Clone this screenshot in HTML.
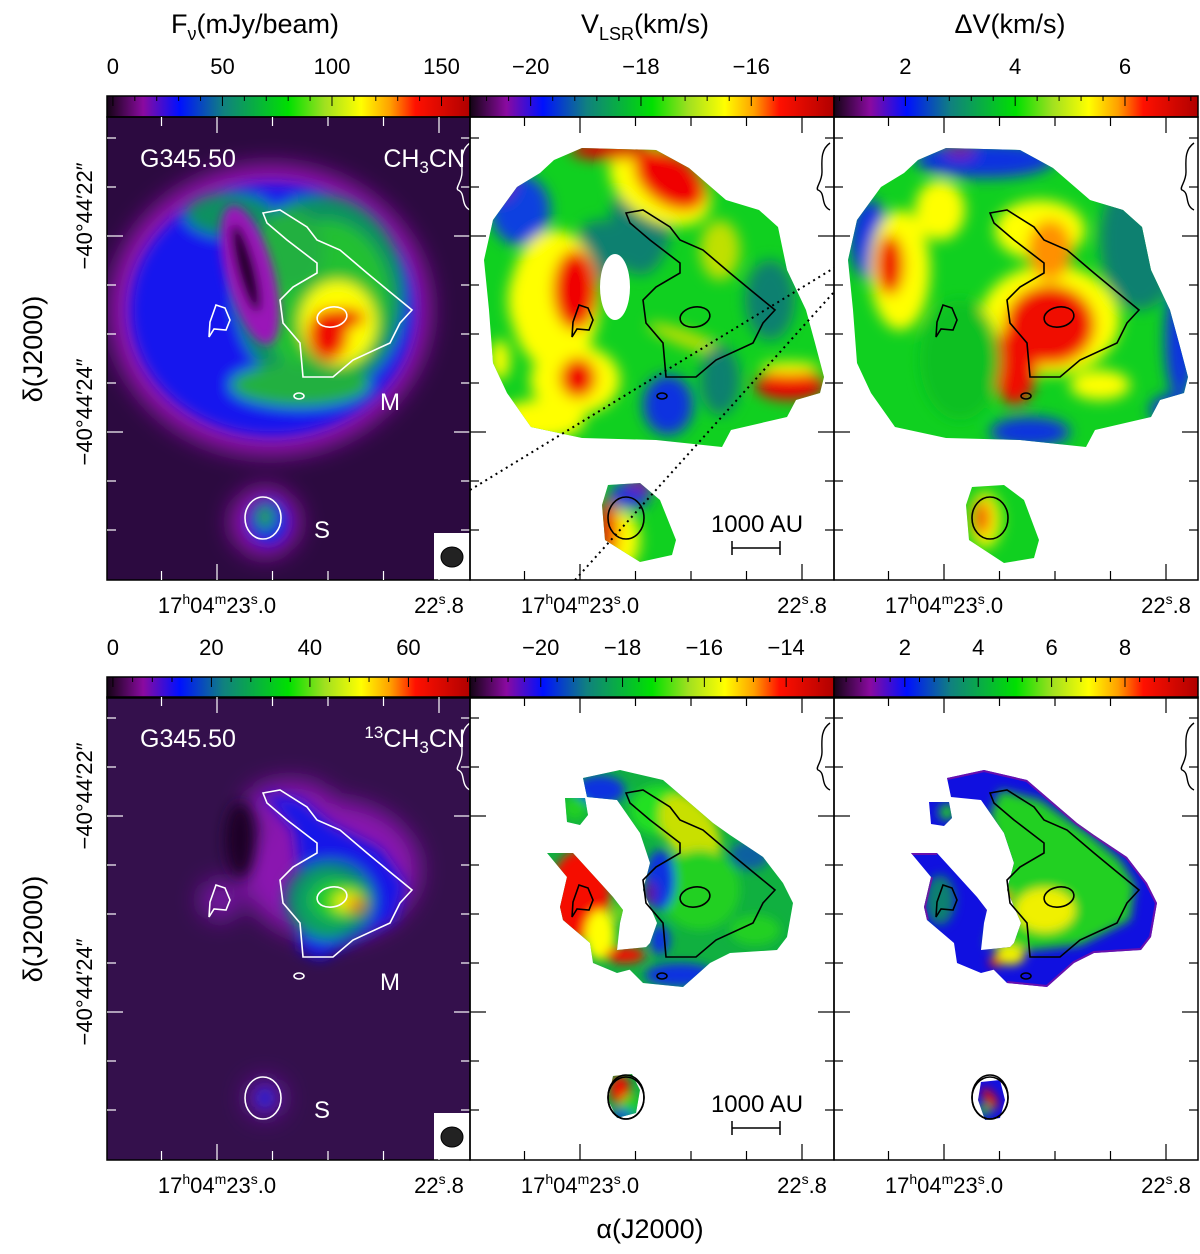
<!DOCTYPE html>
<html><head><meta charset="utf-8">
<style>
html,body{margin:0;padding:0;background:#fff;}
svg{display:block;font-family:"Liberation Sans",sans-serif;}
</style></head>
<body>
<svg id="fig" width="1200" height="1254" viewBox="0 0 1200 1254" xmlns="http://www.w3.org/2000/svg">
<defs>
  <linearGradient id="cmap" x1="0" x2="1" y1="0" y2="0">
    <stop offset="0" stop-color="#140414"/>
    <stop offset="0.1" stop-color="#8a0aa0"/>
    <stop offset="0.2" stop-color="#0010ff"/>
    <stop offset="0.32" stop-color="#108080"/>
    <stop offset="0.5" stop-color="#00e000"/>
    <stop offset="0.6" stop-color="#a0e020"/>
    <stop offset="0.7" stop-color="#ffff00"/>
    <stop offset="0.78" stop-color="#ffa000"/>
    <stop offset="0.85" stop-color="#ff1000"/>
    <stop offset="1" stop-color="#b00000"/>
  </linearGradient>
  <filter id="b14" x="-50%" y="-50%" width="200%" height="200%"><feGaussianBlur stdDeviation="12"/></filter>
  <filter id="b8" x="-50%" y="-50%" width="200%" height="200%"><feGaussianBlur stdDeviation="7"/></filter>
  <filter id="b5" x="-50%" y="-50%" width="200%" height="200%"><feGaussianBlur stdDeviation="5"/></filter>
  <filter id="b3" x="-50%" y="-50%" width="200%" height="200%"><feGaussianBlur stdDeviation="3"/></filter>
  <clipPath id="cp1"><rect x="107" y="117" width="363" height="463"/></clipPath>
  <clipPath id="cp4"><rect x="107" y="697" width="363" height="463"/></clipPath>
  <clipPath id="shapeTop"><path d="M554,160 L582,148 L656,150 L689,168 L726,200 L759,210 L778,227 L787,270 L806,310 L815,343 L824,377 L820,393 L796,400 L787,417 L731,430 L722,447 L656,440 L582,438 L531,427 L507,393 L493,363 L489,310 L484,260 L493,220 L517,187 L540,173 Z M608,485 L640,483 L660,500 L676,540 L672,555 L640,562 L605,540 L602,505 Z"/></clipPath>
  <clipPath id="shapeTop3"><path transform="translate(364,0)" d="M554,160 L582,148 L656,150 L689,168 L726,200 L759,210 L778,227 L787,270 L806,310 L815,343 L824,377 L820,393 L796,400 L787,417 L731,430 L722,447 L656,440 L582,438 L531,427 L507,393 L493,363 L489,310 L484,260 L493,220 L517,187 L540,173 Z M608,487 L640,485 L660,500 L675,540 L670,558 L640,563 L605,540 L602,505 Z"/></clipPath>
  <clipPath id="shapeBot"><path d="M583,778 L620,770 L663,780 L713,823 L730,835 L763,857 L783,883 L793,903 L787,937 L777,950 L730,953 L710,963 L683,987 L643,983 L627,967 L650,943 L657,923 L643,890 L650,863 L640,833 L617,800 L587,797 Z M547,853 L573,853 L613,897 L623,910 L620,923 L617,950 L647,947 L640,967 L617,973 L593,963 L590,943 L563,920 L560,907 L567,877 Z M565,798 L585,798 L588,815 L580,825 L567,822 Z M613,1076 L632,1074 L640,1090 L636,1113 L617,1118 L608,1100 Z"/></clipPath>
  <clipPath id="shapeBot3"><path transform="translate(364,0)" d="M583,778 L620,770 L663,780 L713,823 L730,835 L763,857 L783,883 L793,903 L787,937 L777,950 L730,953 L710,963 L683,987 L643,983 L627,967 L650,943 L657,923 L643,890 L650,863 L640,833 L617,800 L587,797 Z M547,853 L573,853 L613,897 L623,910 L620,923 L617,950 L647,947 L640,967 L617,973 L593,963 L590,943 L563,920 L560,907 L567,877 Z M565,802 L585,802 L588,818 L580,826 L567,824 Z M617,1082 L636,1080 L641,1100 L636,1118 L621,1120 L614,1100 Z" /></clipPath>
  <g id="contour">
    <path d="M263,213 L280,210 L307,227 L317,240 L340,250 L367,273 L390,292 L412,310 L400,323 L390,343 L353,360 L333,377 L303,377 L300,343 L283,323 L280,300 L293,287 L317,273 L317,263 L287,240 L267,223 Z" fill="none" stroke-width="1.6"/>
    <ellipse cx="332" cy="317" rx="15" ry="10" fill="none" stroke-width="1.6" transform="rotate(-10 332 317)"/>
    <path d="M216,305 L225,308 L230,320 L226,330 L214,329 L209,337 L210,322 Z" fill="none" stroke-width="1.6"/>
    <ellipse cx="299" cy="396" rx="5" ry="3" fill="none" stroke-width="1.6"/>
    <ellipse cx="263" cy="518" rx="18" ry="21" fill="none" stroke-width="1.6"/>
  </g>
  <path id="brace" d="M830,143 C820,150 822,162 822,172 C822,182 815,188 818,190 C826,193 820,205 830,210" fill="none" stroke-width="1.4"/>
</defs>

<!-- ===== TOP LEFT: intensity map ===== -->
<g clip-path="url(#cp1)">
  <rect x="107" y="117" width="363" height="463" fill="#2c0a40"/>
  <g filter="url(#b14)">
    <ellipse cx="270" cy="310" rx="160" ry="145" fill="#9a18b8"/>
    <ellipse cx="265" cy="522" rx="34" ry="34" fill="#9a18b8"/>
  </g>
  <g filter="url(#b8)">
    <ellipse cx="272" cy="310" rx="142" ry="126" fill="#1414ee"/>
    <ellipse cx="268" cy="522" rx="20" ry="22" fill="#1818e8"/>
    <ellipse cx="320" cy="295" rx="85" ry="100" fill="#109060"/>
    <ellipse cx="325" cy="300" rx="65" ry="80" fill="#20c030"/>
    <ellipse cx="300" cy="385" rx="70" ry="22" fill="#20b040"/>
    <ellipse cx="230" cy="215" rx="45" ry="22" fill="#109060"/>
    <ellipse cx="290" cy="250" rx="35" ry="40" fill="#20b040"/>
    <ellipse cx="265" cy="517" rx="10" ry="13" fill="#20a040"/>
    <ellipse cx="338" cy="323" rx="38" ry="42" fill="#ffff00"/>
    <ellipse cx="328" cy="335" rx="20" ry="26" fill="#f01000"/>
    <ellipse cx="345" cy="318" rx="20" ry="10" fill="#f01000"/>
  </g>
  <g filter="url(#b5)">
    <ellipse cx="250" cy="275" rx="24" ry="72" fill="#9a18b8" transform="rotate(-15 250 275)"/>
    <ellipse cx="246" cy="268" rx="9" ry="45" fill="#1a0420" transform="rotate(-15 246 268)"/>
  </g>
  <text x="140" y="167" font-size="25" fill="#fff">G345.50</text>
  <text x="465" y="167" font-size="25" fill="#fff" text-anchor="end">CH<tspan font-size="17" dy="6">3</tspan><tspan dy="-6">CN</tspan></text>
  <text x="390" y="410" font-size="24" fill="#fff" text-anchor="middle">M</text>
  <text x="322" y="538" font-size="24" fill="#fff" text-anchor="middle">S</text>
  <use href="#contour" stroke="#fff"/>
  <use href="#brace" stroke="#fff" transform="translate(-360,0)"/>
  <rect x="434" y="533" width="36" height="47" fill="#fff"/>
  <ellipse cx="452" cy="557" rx="11" ry="10" fill="#222" stroke="#000"/>
</g>

<!-- ===== TOP MIDDLE: velocity map ===== -->
<g clip-path="url(#shapeTop)">
  <rect x="470" y="117" width="364" height="463" fill="#10d020"/>
  <g filter="url(#b8)">
    <ellipse cx="520" cy="210" rx="30" ry="35" fill="#0a40e0"/>
    <ellipse cx="500" cy="180" rx="15" ry="20" fill="#7010a0"/>
    <ellipse cx="600" cy="250" rx="25" ry="30" fill="#108070"/>
    <ellipse cx="640" cy="225" rx="30" ry="50" fill="#108070"/>
    <ellipse cx="660" cy="185" rx="55" ry="35" fill="#ffff00" transform="rotate(30 660 185)"/>
    <ellipse cx="670" cy="180" rx="40" ry="25" fill="#f00000" transform="rotate(35 670 180)"/>
    <ellipse cx="610" cy="150" rx="40" ry="10" fill="#e00000"/>
    <ellipse cx="555" cy="300" rx="45" ry="70" fill="#ffff00"/>
    <ellipse cx="575" cy="290" rx="22" ry="40" fill="#f00000"/>
    <ellipse cx="520" cy="300" rx="12" ry="30" fill="#ffff00"/>
    <ellipse cx="575" cy="380" rx="45" ry="35" fill="#ffff00"/>
    <ellipse cx="578" cy="378" rx="18" ry="20" fill="#f00000"/>
    <ellipse cx="540" cy="420" rx="45" ry="20" fill="#ffff00"/>
    <ellipse cx="500" cy="360" rx="10" ry="20" fill="#ffff00"/>
    <ellipse cx="690" cy="340" rx="45" ry="8" fill="#c0e000" transform="rotate(20 690 340)"/>
    <ellipse cx="720" cy="250" rx="20" ry="30" fill="#c0e000"/>
    <ellipse cx="668" cy="405" rx="25" ry="30" fill="#0a30e0"/>
    <ellipse cx="720" cy="380" rx="20" ry="35" fill="#108070"/>
    <ellipse cx="790" cy="385" rx="35" ry="15" fill="#f00000"/>
    <ellipse cx="790" cy="368" rx="30" ry="6" fill="#ffff00"/>
    <ellipse cx="770" cy="300" rx="25" ry="40" fill="#108070"/>
    <ellipse cx="620" cy="540" rx="20" ry="30" fill="#ffff00"/>
    <ellipse cx="608" cy="530" rx="10" ry="30" fill="#f00000"/>
    <ellipse cx="630" cy="495" rx="20" ry="14" fill="#0a30e0"/>
    <ellipse cx="640" cy="485" rx="14" ry="7" fill="#8010a0"/>
  </g>
</g>
<g fill="#fff">
  <ellipse cx="615" cy="287" rx="15" ry="33"/>
  <ellipse cx="979" cy="287" rx="15" ry="33"/>
</g>
<g>
  <use href="#contour" stroke="#000" transform="translate(363,0)"/>
  <use href="#brace" stroke="#000"/>
  <text x="757" y="532" font-size="24" text-anchor="middle">1000 AU</text>
  <path d="M732,548 H780 M732,541 V555 M780,541 V555" stroke="#000" stroke-width="1.5"/>
</g>

<!-- ===== TOP RIGHT: linewidth map ===== -->
<g clip-path="url(#shapeTop3)">
  <rect x="834" y="117" width="364" height="463" fill="#10d020"/>
  <g filter="url(#b8)">
    <ellipse cx="985" cy="160" rx="70" ry="18" fill="#0a30e0"/>
    <ellipse cx="960" cy="152" rx="15" ry="6" fill="#8010a0"/>
    <ellipse cx="1140" cy="240" rx="40" ry="70" fill="#108070"/>
    <ellipse cx="1180" cy="340" rx="15" ry="60" fill="#0a30e0"/>
    <ellipse cx="1170" cy="410" rx="20" ry="15" fill="#0a30e0"/>
    <ellipse cx="1030" cy="432" rx="40" ry="15" fill="#0a30e0"/>
    <ellipse cx="870" cy="240" rx="20" ry="40" fill="#0a30e0"/>
    <ellipse cx="900" cy="270" rx="30" ry="60" fill="#ffff00"/>
    <ellipse cx="890" cy="265" rx="14" ry="30" fill="#f01000"/>
    <ellipse cx="940" cy="210" rx="25" ry="30" fill="#ffff00"/>
    <ellipse cx="1040" cy="230" rx="45" ry="30" fill="#ffff00"/>
    <ellipse cx="1050" cy="320" rx="70" ry="55" fill="#ffff00"/>
    <ellipse cx="1050" cy="325" rx="45" ry="40" fill="#f01000"/>
    <ellipse cx="1015" cy="365" rx="22" ry="40" fill="#f01000"/>
    <ellipse cx="1050" cy="250" rx="22" ry="30" fill="#ff9000"/>
    <ellipse cx="1100" cy="385" rx="30" ry="15" fill="#ffff00"/>
    <ellipse cx="960" cy="360" rx="40" ry="60" fill="#10c020"/>
    <ellipse cx="985" cy="520" rx="16" ry="28" fill="#ffff00"/>
    <ellipse cx="982" cy="518" rx="8" ry="18" fill="#f01000"/>
  </g>
</g>
<g>
  <use href="#contour" stroke="#000" transform="translate(727,0)"/>
  <use href="#brace" stroke="#000" transform="translate(364,0)"/>
</g>

<!-- dotted zoom lines -->
<path d="M470,490 L834,268 M575,580 L834,292" stroke="#000" stroke-width="2" stroke-dasharray="2,4" fill="none"/>

<!-- ===== BOTTOM LEFT: 13CH3CN intensity ===== -->
<g clip-path="url(#cp4)">
  <rect x="107" y="697" width="363" height="463" fill="#34104c"/>
  <g filter="url(#b14)">
    <ellipse cx="330" cy="870" rx="90" ry="70" fill="#8a18b0"/>
    <ellipse cx="290" cy="805" rx="45" ry="25" fill="#8a18b0"/>
    <ellipse cx="220" cy="900" rx="20" ry="20" fill="#7a18a8"/>
    <ellipse cx="265" cy="1098" rx="20" ry="20" fill="#6a18a0"/>
  </g>
  <g filter="url(#b8)">
    <path d="M263,793 L300,800 L330,825 L380,850 L405,885 L395,920 L355,940 L320,960 L300,950 L295,900 L300,870 L295,830 Z" fill="#1818e8"/>
    <ellipse cx="330" cy="900" rx="45" ry="40" fill="#108070"/>
    <ellipse cx="325" cy="905" rx="30" ry="35" fill="#10a060"/>
    <ellipse cx="340" cy="900" rx="28" ry="20" fill="#20d020"/>
    <ellipse cx="348" cy="902" rx="14" ry="9" fill="#ffff00"/>
    <ellipse cx="356" cy="905" rx="9" ry="6" fill="#f01000"/>
    <ellipse cx="265" cy="1098" rx="8" ry="10" fill="#2020e0"/>
    <ellipse cx="240" cy="840" rx="15" ry="38" fill="#1a0428"/>
  </g>
  <text x="140" y="747" font-size="25" fill="#fff">G345.50</text>
  <text x="465" y="747" font-size="25" fill="#fff" text-anchor="end"><tspan font-size="17" dy="-9">13</tspan><tspan dy="9">CH</tspan><tspan font-size="17" dy="6">3</tspan><tspan dy="-6">CN</tspan></text>
  <text x="390" y="990" font-size="24" fill="#fff" text-anchor="middle">M</text>
  <text x="322" y="1118" font-size="24" fill="#fff" text-anchor="middle">S</text>
  <use href="#contour" stroke="#fff" transform="translate(0,580)"/>
  <use href="#brace" stroke="#fff" transform="translate(-360,580)"/>
  <rect x="434" y="1113" width="36" height="47" fill="#fff"/>
  <ellipse cx="452" cy="1137" rx="11" ry="10" fill="#222" stroke="#000"/>
</g>

<!-- ===== BOTTOM MIDDLE ===== -->
<g clip-path="url(#shapeBot)">
  <rect x="470" y="697" width="364" height="463" fill="#10b040"/>
  <g filter="url(#b5)">
    <ellipse cx="600" cy="790" rx="25" ry="15" fill="#0a30e0"/>
    <ellipse cx="660" cy="810" rx="30" ry="25" fill="#20e020"/>
    <ellipse cx="690" cy="830" rx="25" ry="40" fill="#c8e000" transform="rotate(-35 690 830)"/>
    <ellipse cx="700" cy="890" rx="40" ry="40" fill="#20d020"/>
    <ellipse cx="660" cy="880" rx="15" ry="30" fill="#0a30e0"/>
    <ellipse cx="650" cy="893" rx="6" ry="12" fill="#6010a0"/>
    <ellipse cx="660" cy="940" rx="10" ry="15" fill="#0a30e0"/>
    <ellipse cx="680" cy="975" rx="35" ry="12" fill="#0a30e0"/>
    <ellipse cx="755" cy="930" rx="25" ry="15" fill="#20d020"/>
    <ellipse cx="750" cy="855" rx="20" ry="15" fill="#0a60a0"/>
    <ellipse cx="580" cy="895" rx="30" ry="45" fill="#f51000"/>
    <ellipse cx="600" cy="935" rx="15" ry="25" fill="#ffff00"/>
    <ellipse cx="620" cy="912" rx="10" ry="10" fill="#60d020"/>
    <ellipse cx="625" cy="955" rx="20" ry="8" fill="#f51000"/>
    <ellipse cx="575" cy="808" rx="12" ry="12" fill="#20d020"/>
    <ellipse cx="620" cy="1090" rx="10" ry="15" fill="#f01000"/>
    <ellipse cx="630" cy="1105" rx="10" ry="10" fill="#20d020"/>
    <ellipse cx="622" cy="1115" rx="12" ry="5" fill="#0a30e0"/>
  </g>
</g>
<g>
  <use href="#contour" stroke="#000" transform="translate(363,580)"/>
  <ellipse cx="626" cy="1097" rx="18" ry="22" fill="none" stroke="#000" stroke-width="1.6"/>
  <use href="#brace" stroke="#000" transform="translate(0,580)"/>
  <text x="757" y="1112" font-size="24" text-anchor="middle">1000 AU</text>
  <path d="M732,1128 H780 M732,1121 V1135 M780,1121 V1135" stroke="#000" stroke-width="1.5"/>
</g>

<!-- ===== BOTTOM RIGHT ===== -->
<g clip-path="url(#shapeBot3)">
  <rect x="834" y="697" width="364" height="463" fill="#1010e0"/>
  <g filter="url(#b5)">
    <path d="M1000,790 L1040,800 L1090,835 L1120,860 L1135,885 L1130,920 L1080,945 L1030,950 L985,945 L1000,900 L1000,860 L990,815 Z" fill="#20d020"/>
    <ellipse cx="1045" cy="910" rx="30" ry="22" fill="#f0f000"/>
    <ellipse cx="1000" cy="900" rx="12" ry="5" fill="#ff6000" transform="rotate(-30 1000 900)"/>
    <ellipse cx="940" cy="900" rx="15" ry="25" fill="#108070"/>
    <ellipse cx="947" cy="812" rx="8" ry="8" fill="#20d020"/>
    <ellipse cx="1010" cy="955" rx="15" ry="10" fill="#f0f000"/>
    <ellipse cx="995" cy="962" rx="6" ry="5" fill="#f01000"/>
    <ellipse cx="990" cy="1098" rx="5" ry="12" fill="#f01000" transform="rotate(-35 990 1098)"/>
    <ellipse cx="984" cy="1110" rx="7" ry="5" fill="#20d020"/>
  </g>
  <g fill="none" stroke="#8010a0" stroke-width="4" opacity="0.8">
    <path transform="translate(364,0)" d="M583,778 L620,770 L663,780 L713,823 L730,835 L763,857 L783,883 L793,903 L787,937 L777,950 L730,953 L710,963 L683,987 L643,983 M547,853 L573,853 M563,920 L560,907 L567,877"/>
  </g>
</g>
<g>
  <use href="#contour" stroke="#000" transform="translate(727,580)"/>
  <ellipse cx="990" cy="1097" rx="18" ry="22" fill="none" stroke="#000" stroke-width="1.6"/>
  <use href="#brace" stroke="#000" transform="translate(364,580)"/>
</g>

<g id="axes"></g>
</svg>

<script>
// colorbar data (value ranges and tick labels)
const cbTopIntensity = [0, 50, 100, 150];
const cbTopVelocity = [-20, -18, -16];
const cbTopWidth = [2, 4, 6];
const cbBotIntensity = [0, 20, 40, 60];
const cbBotVelocity = [-20, -18, -16, -14];
const cbBotWidth = [2, 4, 6, 8];
const cbRanges = [[-2.7, 163], [-21.1, -14.5], [0.7, 7.33], [-1.2, 72.5], [-21.73, -12.83], [0.07, 9.99]];
const decTicks = ["\u221240\u00b044\u203222\u2033", "\u221240\u00b044\u203224\u2033"];
const raTicks = ["23.0", "22.8"];

const NS = "http://www.w3.org/2000/svg";
const ax = document.getElementById("axes");
function mk(tag, attrs, parent) {
  const e = document.createElementNS(NS, tag);
  for (const k in attrs) e.setAttribute(k, attrs[k]);
  (parent || ax).appendChild(e);
  return e;
}
const cols = [[107, 470], [470, 834], [834, 1198]];
const rows = [[117, 580], [697, 1160]];
const cbY = [96, 677];
const cbLists = [cbTopIntensity, cbTopVelocity, cbTopWidth, cbBotIntensity, cbBotVelocity, cbBotWidth];

for (let r = 0; r < 2; r++) {
  for (let c = 0; c < 3; c++) {
    const [x0, x1] = cols[c], [y0, y1] = rows[r];
    const idx = r * 3 + c;
    const [vmin, vmax] = cbRanges[idx];
    const sx = v => x0 + (v - vmin) / (vmax - vmin) * (x1 - x0);
    const cb = mk("rect", {x: x0, y: cbY[r], width: x1 - x0, height: 21, fill: "url(#cmap)", stroke: "#000", "stroke-width": 1.5});
    
    
    const ticks = cbLists[idx];
    const step = ticks[1] - ticks[0];
    for (let v = ticks[0] - step; v <= vmax + 1e-9; v += step / 5) {
      if (v < vmin) continue;
      const major = Math.abs(((v - ticks[0]) / step) - Math.round((v - ticks[0]) / step)) < 1e-6;
      const X = sx(v);
      const t = mk("line", {x1: X, x2: X, y1: cbY[r], y2: cbY[r] + (major ? 10 : 5), stroke: "#000", "stroke-width": 1});
      
      
    }
    ticks.forEach(v => {
      const tl = mk("text", {x: sx(v), y: cbY[r] - 22, "font-size": 22, "text-anchor": "middle"});
      tl.textContent = v < 0 ? "\u2212" + Math.abs(v) : String(v);
      
      
    });
    const fr = mk("rect", {x: x0, y: y0, width: x1 - x0, height: y1 - y0, fill: "none", stroke: "#000", "stroke-width": 1.5});
    
    
    const tc = c === 0 ? "#fff" : "#000";
    for (let k = -1; k <= 5; k++) {
      const X = x0 + 110 + k * 55.5;
      if (X <= x0 + 2 || X >= x1 - 2) continue;
      const major = (k === 0 || k === 4);
      const L = major ? 16 : 9;
      mk("line", {x1: X, x2: X, y1: y0, y2: y0 + L, stroke: tc, "stroke-width": 1.2});
      mk("line", {x1: X, x2: X, y1: y1, y2: y1 - L, stroke: tc, "stroke-width": 1.2});
    }
    for (let k = 0; k < 9; k++) {
      const Y = y0 + 21 + k * 49;
      const major = (k === 2 || k === 6);
      const L = major ? 16 : 9;
      mk("line", {x1: x0, x2: x0 + L, y1: Y, y2: Y, stroke: tc, "stroke-width": 1.2});
      mk("line", {x1: x1, x2: x1 - L, y1: Y, y2: Y, stroke: tc, "stroke-width": 1.2});
    }
    const la = mk("text", {x: x0 + 110, y: y1 + 33, "font-size": 22, "text-anchor": "middle"});
    la.innerHTML = '17<tspan font-size="14" dy="-9">h</tspan><tspan dy="9">04</tspan><tspan font-size="14" dy="-9">m</tspan><tspan dy="9">23</tspan><tspan font-size="14" dy="-9">s</tspan><tspan dy="9">.' + raTicks[0].split(".")[1] + '</tspan>';
    
    
    const lb = mk("text", {x: x0 + 332, y: y1 + 33, "font-size": 22, "text-anchor": "middle"});
    lb.innerHTML = '22<tspan font-size="14" dy="-9">s</tspan><tspan dy="9">.' + raTicks[1].split(".")[1] + '</tspan>';
    
    
  }
  [0, 1].forEach(i => {
    const Y = rows[r][0] + 21 + (i === 0 ? 2 : 6) * 49 - 20;
    const t = mk("text", {x: 0, y: 0, "font-size": 22, "text-anchor": "middle", transform: "translate(92," + Y + ") rotate(-90)"});
    t.textContent = decTicks[i];
    
    
  });
  const yl = mk("text", {x: 0, y: 0, "font-size": 27, "text-anchor": "middle", transform: "translate(42," + (rows[r][0] + 232) + ") rotate(-90)"});
  yl.textContent = "\u03b4(J2000)";
  
  
}
const t1 = mk("text", {x: 255, y: 33, "font-size": 27, "text-anchor": "middle"});
t1.innerHTML = 'F<tspan font-size="18" dy="7">\u03bd</tspan><tspan dy="-7">(mJy/beam)</tspan>';


const t2 = mk("text", {x: 645, y: 33, "font-size": 27, "text-anchor": "middle"});
t2.innerHTML = 'V<tspan font-size="18" dy="7">LSR</tspan><tspan dy="-7">(km/s)</tspan>';


const t3 = mk("text", {x: 1010, y: 33, "font-size": 27, "text-anchor": "middle"});
t3.textContent = "\u0394V(km/s)";


const xt = mk("text", {x: 650, y: 1238, "font-size": 27, "text-anchor": "middle"});
xt.textContent = "\u03b1(J2000)";


</script>
</body></html>
